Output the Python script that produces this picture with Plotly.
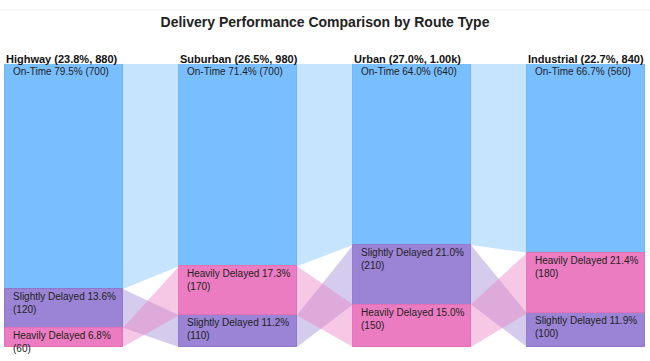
import plotly.graph_objects as go

# ---- data ----
routes = ["Highway", "Suburban", "Urban", "Industrial"]
statuses = ["On-Time", "Slightly Delayed", "Heavily Delayed"]
on_time = [700, 700, 640, 560]
slightly_delayed = [120, 110, 210, 100]
heavily_delayed = [60, 170, 150, 180]
title_text = "Delivery Performance Comparison by Route Type"

# ---- styles ----
bar_colors = {"On-Time": "#79BEFE", "Slightly Delayed": "#9B84D5", "Heavily Delayed": "#EC7CC1"}
line_colors = {"On-Time": "#6FB5F7", "Slightly Delayed": "#8F77CC", "Heavily Delayed": "#E270B7"}
ribbon_colors = {"On-Time": "rgba(121,190,254,0.42)",
                 "Slightly Delayed": "rgba(155,132,213,0.42)",
                 "Heavily Delayed": "rgba(236,124,193,0.42)"}
BAR_W = 0.678
W, H = 650, 361
M_T, M_B = 64, 14

values = {"On-Time": on_time, "Slightly Delayed": slightly_delayed, "Heavily Delayed": heavily_delayed}
totals = [sum(values[s][i] for s in statuses) for i in range(len(routes))]
grand = sum(totals)

# layout of segments: per column, sort by value descending (top to bottom)
seg = {}  # (status, col) -> (top, bottom) in share units
for i in range(len(routes)):
    order = sorted(statuses, key=lambda s: -values[s][i])
    acc = 0.0
    for s in order:
        h = values[s][i] / totals[i]
        seg[(s, i)] = (acc, acc + h)
        acc += h

fig = go.Figure()

# ribbons
for s in statuses:
    for i in range(len(routes) - 1):
        x0 = i + BAR_W / 2
        x1 = i + 1 - BAR_W / 2
        t0, b0 = seg[(s, i)]
        t1, b1 = seg[(s, i + 1)]
        fig.add_trace(go.Scatter(
            x=[x0, x1, x1, x0, x0], y=[t0, t1, b1, b0, t0],
            mode="lines", line=dict(width=0), fill="toself",
            fillcolor=ribbon_colors[s], hoverinfo="skip", showlegend=False))

# bars
for s in statuses:
    xs = list(range(len(routes)))
    bases = [seg[(s, i)][0] for i in xs]
    hs = [seg[(s, i)][1] - seg[(s, i)][0] for i in xs]
    fig.add_trace(go.Bar(
        x=xs, y=hs, base=bases, width=BAR_W, name=s,
        marker=dict(color=bar_colors[s], line=dict(color=line_colors[s], width=1)),
        showlegend=False, hoverinfo="skip"))

annotations = []
for i, r in enumerate(routes):
    left = i - BAR_W / 2
    tot = totals[i]
    tot_txt = f"{tot/1000:.2f}k" if tot >= 1000 else f"{tot}"
    annotations.append(dict(
        x=left, xref="x", xanchor="left", y=1, yref="paper", yanchor="bottom",
        yshift=-3, xshift=-1, showarrow=False,
        text=f"<b>{r} ({tot/grand*100:.1f}%, {tot_txt})</b>",
        font=dict(family="Liberation Sans Narrow, Arial Narrow, sans-serif", size=11, color="#111")))
    for s in statuses:
        v = values[s][i]
        pct = v / tot * 100
        label = f"{s} {pct:.1f}% ({v})"
        if len(label) > 22:
            label = f"{s} {pct:.1f}%<br>({v})"
        annotations.append(dict(
            x=left, xref="x", xanchor="left", y=seg[(s, i)][0], yref="y", yanchor="top",
            xshift=6, yshift=0, showarrow=False, align="left", text=label,
            font=dict(family="Liberation Sans, Arial, sans-serif", size=10, color="#222")))

fig.update_layout(
    width=W, height=H,
    margin=dict(l=0, r=0, t=M_T, b=M_B, pad=0),
    paper_bgcolor="white", plot_bgcolor="white",
    barmode="overlay", bargap=0,
    title=dict(text=f"<b>{title_text}</b>", x=0.5, xanchor="center",
               y=1 - 22.5 / H, yref="container", yanchor="middle",
               font=dict(family="Liberation Sans Narrow, Arial Narrow, sans-serif", size=14, color="#222")),
    xaxis=dict(range=[-64 / 174, (W - 64) / 174], visible=False, fixedrange=True),
    yaxis=dict(range=[1, 0], visible=False, fixedrange=True),
    annotations=annotations,
    shapes=[dict(type="line", xref="paper", yref="paper", x0=0, x1=1,
                 y0=(H - M_B - 10) / (H - M_T - M_B), y1=(H - M_B - 10) / (H - M_T - M_B),
                 line=dict(color="#eeeeee", width=1))],
)

fig.write_html("out.html", config={"displayModeBar": False},
               post_script="document.body.style.margin='0';document.body.style.overflow='hidden';")
